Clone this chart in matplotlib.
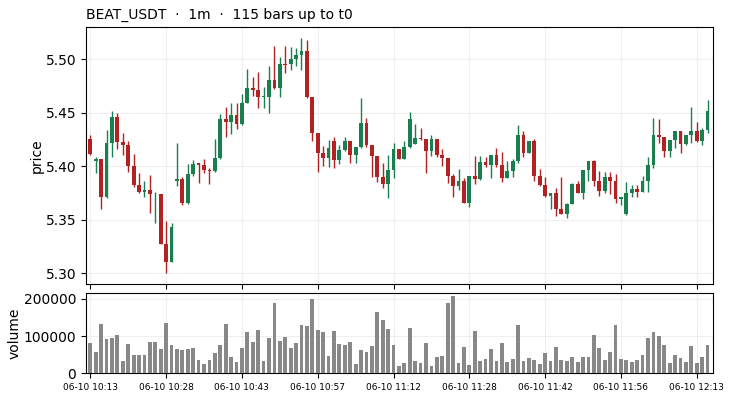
import matplotlib
matplotlib.use("Agg")
from matplotlib import pyplot as plt
import numpy as np

# OHLC, one row per 1m bar
opens = [5.4255, 5.4053, 5.4069, 5.3717, 5.4221, 5.4461, 5.4227, 5.4199, 5.4003, 5.3826,
         5.3763, 5.3779, 5.3740, 5.3741, 5.3274, 5.3106, 5.3863, 5.3882, 5.3654, 5.3928,
         5.4028, 5.4012, 5.3966, 5.3956, 5.4078, 5.4442, 5.4417, 5.4480, 5.4396, 5.4592,
         5.4732, 5.4713, 5.4651, 5.4651, 5.4807, 5.4732, 5.4956, 5.4960, 5.5003, 5.5040,
         5.5078, 5.4645, 5.4308, 5.4121, 5.4081, 5.4237, 5.4059, 5.4153, 5.4237, 5.4106,
         5.4181, 5.4405, 5.4199, 5.4097, 5.3903, 5.3832, 5.3966, 5.4162, 5.4072, 5.4181,
         5.4212, 5.4268, 5.4255, 5.4146, 5.4255, 5.4106, 5.4081, 5.3913, 5.3819, 5.3863,
         5.3660, 5.3910, 5.3882, 5.4041, 5.4016, 5.4106, 5.4012, 5.3894, 5.3956, 5.4050,
         5.4293, 5.4128, 5.4237, 5.3910, 5.3826, 5.3723, 5.3751, 5.3601, 5.3555, 5.3648,
         5.3835, 5.3754, 5.3966, 5.4050, 5.3863, 5.3769, 5.3900, 5.3863, 5.3695, 5.3555,
         5.3751, 5.3788, 5.3763, 5.3863, 5.4012, 5.4293, 5.4274, 5.4143, 5.4246, 5.4330,
         5.4209, 5.4293, 5.4330, 5.4237, 5.4340]
highs = [5.4290, 5.4090, 5.4070, 5.4340, 5.4517, 5.4495, 5.4308, 5.4234, 5.4112, 5.3935,
         5.3863, 5.3916, 5.3763, 5.3745, 5.3486, 5.3467, 5.4215, 5.3903, 5.4022, 5.4059,
         5.4034, 5.4065, 5.3984, 5.4255, 5.4486, 5.4551, 5.4589, 5.4589, 5.4676, 5.4907,
         5.4832, 5.4885, 5.4745, 5.4941, 5.5125, 5.5019, 5.5125, 5.5112, 5.5103, 5.5196,
         5.5181, 5.4645, 5.4308, 5.4193, 5.4246, 5.4271, 5.4199, 5.4271, 5.4237, 5.4181,
         5.4636, 5.4449, 5.4199, 5.4097, 5.4028, 5.4106, 5.4215, 5.4162, 5.4234, 5.4505,
         5.4393, 5.4355, 5.4255, 5.4290, 5.4255, 5.4159, 5.4081, 5.3928, 5.3972, 5.3888,
         5.3910, 5.4097, 5.4097, 5.4084, 5.4106, 5.4168, 5.4137, 5.4050, 5.4065, 5.4386,
         5.4330, 5.4237, 5.4255, 5.3975, 5.3897, 5.3751, 5.3794, 5.3897, 5.3660, 5.3841,
         5.3866, 5.3966, 5.4050, 5.4059, 5.3957, 5.3950, 5.3944, 5.3925, 5.3713, 5.3850,
         5.3826, 5.3826, 5.3910, 5.4090, 5.4449, 5.4442, 5.4274, 5.4246, 5.4330, 5.4330,
         5.4293, 5.4551, 5.4411, 5.4355, 5.4620]
lows = [5.4106, 5.3935, 5.3598, 5.3707, 5.4090, 5.4159, 5.4109, 5.3950, 5.3810, 5.3754,
        5.3717, 5.3567, 5.3467, 5.3270, 5.3000, 5.3103, 5.3819, 5.3639, 5.3652, 5.3913,
        5.3841, 5.3935, 5.3832, 5.3950, 5.4069, 5.4277, 5.4299, 5.4346, 5.4386, 5.4589,
        5.4657, 5.4548, 5.4542, 5.4495, 5.4723, 5.4645, 5.4875, 5.4903, 5.4941, 5.4903,
        5.4636, 5.4240, 5.3950, 5.4006, 5.3997, 5.3981, 5.4022, 5.4146, 5.4034, 5.4034,
        5.4174, 5.4184, 5.3903, 5.3857, 5.3794, 5.3701, 5.3888, 5.4066, 5.4066, 5.4174,
        5.4206, 5.4246, 5.3935, 5.4100, 5.4090, 5.4006, 5.3841, 5.3717, 5.3779, 5.3654,
        5.3623, 5.3832, 5.3872, 5.3991, 5.3888, 5.3997, 5.3857, 5.3888, 5.3897, 5.4028,
        5.4090, 5.4122, 5.3866, 5.3816, 5.3717, 5.3598, 5.3539, 5.3551, 5.3520, 5.3645,
        5.3748, 5.3692, 5.3866, 5.3819, 5.3726, 5.3748, 5.3738, 5.3654, 5.3639, 5.3545,
        5.3710, 5.3717, 5.3757, 5.3763, 5.3981, 5.4221, 5.4084, 5.4084, 5.4168, 5.4125,
        5.4199, 5.4215, 5.4227, 5.4196, 5.4315]
closes = [5.4115, 5.4065, 5.3717, 5.4218, 5.4461, 5.4227, 5.4199, 5.4003, 5.3826, 5.3763,
          5.3779, 5.3741, 5.3745, 5.3274, 5.3106, 5.3430, 5.3879, 5.3654, 5.3928, 5.4022,
          5.4016, 5.3969, 5.3956, 5.4078, 5.4442, 5.4417, 5.4480, 5.4396, 5.4589, 5.4732,
          5.4717, 5.4651, 5.4655, 5.4807, 5.4732, 5.4956, 5.4950, 5.5003, 5.5040, 5.5078,
          5.4645, 5.4315, 5.4128, 5.4081, 5.4171, 5.4059, 5.4153, 5.4237, 5.4106, 5.4181,
          5.4405, 5.4199, 5.4097, 5.3903, 5.3832, 5.3966, 5.4162, 5.4072, 5.4181, 5.4442,
          5.4265, 5.4255, 5.4146, 5.4255, 5.4106, 5.4081, 5.3913, 5.3819, 5.3863, 5.3660,
          5.3910, 5.3882, 5.4041, 5.4016, 5.4106, 5.4012, 5.3894, 5.3956, 5.4050, 5.4293,
          5.4128, 5.4237, 5.3910, 5.3826, 5.3723, 5.3751, 5.3601, 5.3555, 5.3648, 5.3835,
          5.3754, 5.3966, 5.4050, 5.3863, 5.3769, 5.3900, 5.3863, 5.3695, 5.3713, 5.3751,
          5.3788, 5.3763, 5.3863, 5.4012, 5.4293, 5.4277, 5.4143, 5.4246, 5.4330, 5.4209,
          5.4293, 5.4330, 5.4237, 5.4340, 5.4517]
volumes = [81500, 57300, 132600, 92300, 95000, 103000, 33000, 79000, 49000, 49000,
           49000, 84000, 84000, 65000, 135000, 76000, 65000, 63000, 65000, 68000,
           36000, 25000, 36000, 55000, 76000, 133000, 44000, 30000, 68000, 111000,
           84000, 116000, 33000, 95000, 189000, 87000, 98000, 68000, 81500, 130000,
           127000, 200000, 116000, 111000, 47000, 114000, 79000, 76000, 84000, 25000,
           63000, 57000, 73000, 165000, 143000, 119000, 76000, 20000, 28000, 122000,
           33000, 28000, 81500, 20000, 44000, 47000, 189000, 208000, 28000, 71000,
           22000, 114000, 33000, 38500, 65000, 33000, 81500, 30000, 38500, 130000,
           33000, 41000, 36000, 25000, 55000, 33000, 71000, 36000, 33000, 44000,
           30000, 44000, 44000, 103000, 68000, 36000, 57000, 130000, 38500, 36000,
           30000, 36000, 49000, 95000, 111000, 100000, 76000, 28000, 49000, 41000,
           30000, 73000, 28000, 44000, 76000]

tick_idx = [0, 14, 28, 42, 56, 70, 84, 98, 112]
tick_labels = ["06-10 10:13", "06-10 10:28", "06-10 10:43", "06-10 10:57", "06-10 11:12",
               "06-10 11:28", "06-10 11:42", "06-10 11:56", "06-10 12:13"]

UP = "#1a7f4e"
DOWN = "#b22222"

o = np.array(opens)
h = np.array(highs)
l = np.array(lows)
c = np.array(closes)
x = np.arange(len(o))
colors = [UP if cc >= oo else DOWN for oo, cc in zip(o, c)]

fig = plt.figure(figsize=(7.33, 4.0), dpi=100)
ax = fig.add_axes([0.1173, 0.289, 0.8554, 0.643])
axv = fig.add_axes([0.1173, 0.067, 0.8554, 0.200], sharex=ax)

ax.vlines(x, l, h, colors=colors, linewidth=1.0, zorder=2)
body = np.maximum(np.abs(c - o), 0.0004)
ax.bar(x, body, 0.7, bottom=np.minimum(o, c), color=colors, zorder=3)

ax.set_ylim(5.2897, 5.530)
ax.set_xlim(-0.8, 115.0)
ax.set_yticks([5.30, 5.35, 5.40, 5.45, 5.50])
ax.set_ylabel("price", labelpad=1.5)
ax.set_title("BEAT_USDT  \u00b7  1m  \u00b7  115 bars up to t0", loc="left", fontsize=10)
ax.grid(color="#eeeeee", linewidth=0.8, zorder=0)
ax.set_xticks(tick_idx)
ax.tick_params(axis="x", labelbottom=False)

axv.bar(x, volumes, 0.7, color="#888888", zorder=3)
axv.set_ylim(0, max(volumes) * 1.035)
axv.set_yticks([0, 100000, 200000])
axv.set_ylabel("volume", labelpad=1.5)
axv.grid(color="#eeeeee", linewidth=0.8, zorder=0)
axv.set_xticks(tick_idx)
axv.set_xticklabels(tick_labels, fontsize=6.5)

fig.savefig("out.png", dpi=100)
